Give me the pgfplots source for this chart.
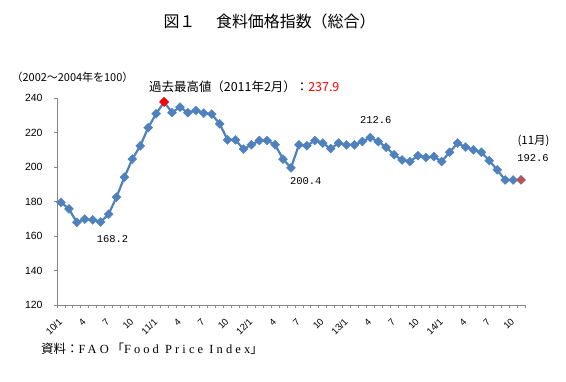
\documentclass[border=0pt]{standalone}
\usepackage{fontspec}
\usepackage{pgfplots}
\pgfplotsset{compat=1.18}
\setmainfont{Noto Sans CJK JP}
\newfontfamily\mono{Liberation Mono}
\newfontfamily\lsans{Liberation Sans}
\newfontfamily\srcserif[LetterSpace=25]{Liberation Serif}
\definecolor{ln}{HTML}{4F81BD}
\definecolor{axc}{HTML}{868686}
\definecolor{lastc}{HTML}{C0504D}
\begin{document}
\begin{tikzpicture}
\path[use as bounding box] (0bp,0bp) rectangle (566bp,382bp);
\begin{axis}[
  at={(57bp,77bp)}, anchor=south west, scale only axis,
  width=468bp, height=206.7bp,
  xmin=-0.5, xmax=58.5, ymin=120, ymax=240,
  axis x line*=bottom, axis y line*=left,
  axis line style={draw=axc, line width=0.8pt, -},
  tick style={draw=axc, line width=0.8pt},
  tick align=outside,
  major tick length=3bp,
  minor tick length=3bp,
  ytick={120,140,...,240},
  xtick={0,3,...,57},
  xticklabels={10/1,4,7,10,11/1,4,7,10,12/1,4,7,10,13/1,4,7,10,14/1,4,7,10},
  minor xtick={-0.5,0.5,...,58.5},
  major x tick style={draw=none},
  xticklabel style={xshift=-3bp, yshift=-8bp, rotate=45, anchor=north east, inner sep=1pt, font=\lsans\fontsize{9.5}{10}\selectfont},
  /pgf/number format/assume math mode=true,
  yticklabel style={xshift=-8bp, font=\lsans\fontsize{10.5}{11}\selectfont},
  clip=false,
]
\addplot[color=ln, line width=2.2pt, mark=square*, mark size=3.2bp,
  mark options={rotate=45, fill=ln, draw=ln, line width=0.3pt}] coordinates {
(0,179.6) (1,175.8) (2,168.0) (3,169.8) (4,169.4) (5,168.2) (6,172.7) (7,182.6)
(8,194.2) (9,204.7) (10,212.4) (11,223.0) (12,231.0) (13,237.9) (14,231.7) (15,234.9)
(16,231.6) (17,232.9) (18,231.4) (19,230.8) (20,225.2) (21,215.9) (22,215.9) (23,210.5)
(24,213.0) (25,215.5) (26,215.5) (27,213.0) (28,204.7) (29,199.6) (30,213.0) (31,212.4)
(32,215.5) (33,214.0) (34,210.8) (35,214.0) (36,213.0) (37,213.0) (38,214.9) (39,217.2)
(40,214.9) (41,211.6) (42,207.2) (43,204.2) (44,203.3) (45,206.7) (46,205.6) (47,206.2)
(48,203.3) (49,208.7) (50,214.0) (51,211.6) (52,210.1) (53,208.7) (54,203.8) (55,198.4)
(56,192.6) (57,192.6) (58,192.6)
};
\addplot[only marks, mark=square*, mark size=3.2bp,
  mark options={rotate=45, fill=red, draw=red}] coordinates {(13,237.9)};
\addplot[only marks, mark=square*, mark size=2.8bp,
  mark options={rotate=45, fill=lastc, draw=lastc}] coordinates {(58,192.6)};
\end{axis}
\node[font=\fontsize{16}{18}\selectfont] at (269.5bp,361bp) {図１\hspace{1.3em}食料価格指数（総合）};
\node[font=\fontsize{11}{12}\selectfont] at (72.5bp,305bp) {（2002～2004年を100）};
\node[anchor=west, inner sep=0pt, font=\fontsize{12.5}{14}\selectfont] at (149bp,295bp) {過去最高値（2011年2月）：\textcolor{red}{237.9}};
\node[font=\mono\fontsize{10.5}{12}\selectfont] at (112.5bp,143.3bp) {168.2};
\node[font=\mono\fontsize{10.5}{12}\selectfont] at (305.8bp,201bp) {200.4};
\node[font=\mono\fontsize{10.5}{12}\selectfont] at (375.7bp,261.5bp) {212.6};
\node[font=\fontsize{11.5}{12}\selectfont] at (533.5bp,241.5bp) {(11月)};
\node[font=\mono\fontsize{10.5}{12}\selectfont] at (533bp,224bp) {192.6};
\node[anchor=west, inner sep=0pt, font=\fontsize{12.5}{14}\selectfont] at (41bp,33.5bp) {資料：{\srcserif FAO} 「{\srcserif Food Price Index}」};
\end{tikzpicture}
\end{document}
